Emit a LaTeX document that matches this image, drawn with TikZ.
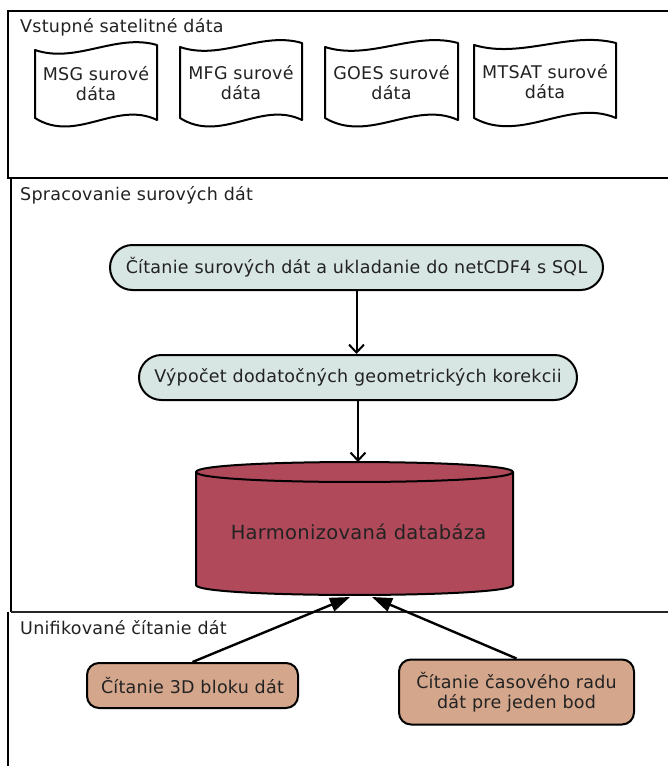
\documentclass[tikz,border=0pt]{standalone}
\usepackage{fontspec}
\setmainfont{DejaVu Sans}[LetterSpace=1.5]
\usetikzlibrary{arrows.meta}
\definecolor{stadfill}{HTML}{D7E5E3}
\definecolor{dbfill}{HTML}{B04A5A}
\definecolor{readfill}{HTML}{D4A68C}
\definecolor{txt}{HTML}{222222}
\begin{document}
\begin{tikzpicture}[x=1pt,y=-1pt,
  every node/.style={text=txt, font=\fontsize{17.5}{20}\selectfont},
  frame/.style={line width=2.6pt, black},
  docline/.style={line width=2pt, fill=white, line join=round},
  doctext/.style={align=center},
  stad/.style={draw, line width=2pt, fill=stadfill, rounded corners=22.5pt, minimum height=45pt, inner sep=0pt},
  rbox/.style={draw, line width=2pt, fill=readfill, rounded corners=12pt, inner sep=0pt, align=center},
  flowarr/.style={line width=2pt, -{Straight Barb[length=8pt,width=15pt,line width=2pt]}},
  bigarr/.style={line width=2.4pt, -{Triangle[length=20pt,width=14pt]}},
  sectitle/.style={anchor=base west, inner sep=0pt}]
\useasboundingbox (0,0) rectangle (667,766);
% section frames
\draw[frame] (672,11) -- (8,11) -- (8,178) -- (672,178);
\draw[frame] (11,178) -- (11,612);
\draw[line width=2pt, black!85] (11,612) -- (672,612);
\draw[frame] (8,612) -- (8,770);
% titles
\node[sectitle] (t1) at (20,32) {Vstupné satelitné dáta};
\node[sectitle] (t2) at (20,200) {Spracovanie surových dát};
\node[sectitle] (t3) at (20,634) {Unifikované čítanie dát};
% documents
\draw[docline] (35,50) .. controls (76,64) and (116,33) .. (157,45) -- (157,120) .. controls (116,100) and (76,144) .. (35,118) -- cycle;
\node[doctext] (msg) at (96,84) {MSG surové\\dáta};
\draw[docline] (180,47) .. controls (221,61) and (261,31) .. (302,43) -- (302,120) .. controls (261,100) and (221,144) .. (180,118) -- cycle;
\node[doctext] (mfg) at (241,83) {MFG surové\\dáta};
\draw[docline] (325,47) .. controls (369,61) and (414,31) .. (458,43) -- (458,120) .. controls (414,100) and (369,144) .. (325,118) -- cycle;
\node[doctext] (goes) at (391.5,83) {GOES surové\\dáta};
\draw[docline] (474,45) .. controls (521,59) and (569,31) .. (616,43) -- (616,118) .. controls (569,98) and (521,144) .. (474,118) -- cycle;
\node[doctext] (mtsat) at (545,82) {MTSAT surové\\dáta};
% processing
\node[stad, minimum width=493pt] (read) at (356.5,267.5) {Čítanie surových dát a ukladanie do netCDF4 s SQL};
\node[stad, minimum width=438pt] (geo) at (358,377.5) {Výpočet dodatočných geometrických korekcii};
% database cylinder
\draw[line width=2pt, fill=dbfill] (196,472) -- (196,585) .. controls (196,598.3) and (513,598.3) .. (513,585) -- (513,472)
   .. controls (513,458.7) and (196,458.7) .. (196,472) -- cycle;
\draw[line width=2pt] (196,472) .. controls (196,485.3) and (513,485.3) .. (513,472);
\node[font=\fontsize{19.5}{23}\selectfont] (db) at (358.5,532) {Harmonizovaná databáza};
\coordinate (dbtop) at (357.5,462);
\coordinate (dbL) at (350,597);
\coordinate (dbR) at (372,597);
\draw[flowarr] (read.south) -- (read.south |- geo.north);
\draw[flowarr] (geo.south) -- (geo.south |- dbtop);
% reading
\node[rbox, minimum width=211pt, minimum height=45pt] (blk) at (192.5,685.5) {Čítanie 3D bloku dát};
\node[rbox, minimum width=235pt, minimum height=65pt] (ts) at (516.5,692) {Čítanie časového radu\\dát pre jeden bod};
\draw[bigarr] (blk.north) -- (dbL);
\draw[bigarr] (ts.north) -- (dbR);
\end{tikzpicture}
\end{document}
